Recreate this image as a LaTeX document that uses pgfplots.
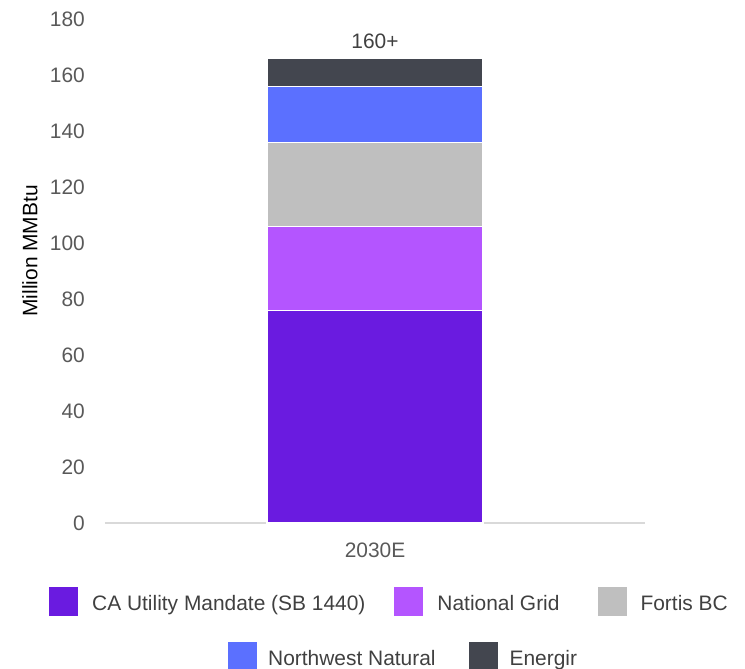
\documentclass[border=0pt]{standalone}
\usepackage{fontspec}
\setmainfont{Liberation Sans}
\usepackage{pgfplots}
\pgfplotsset{compat=1.18}
\definecolor{cacol}{HTML}{6A1BE0}
\definecolor{ngcol}{HTML}{B455FF}
\definecolor{fbcol}{HTML}{BFBFBF}
\definecolor{nwcol}{HTML}{5B70FF}
\definecolor{encol}{HTML}{43464F}
\definecolor{axgray}{HTML}{D9D9D9}
\definecolor{labgray}{HTML}{595959}
\definecolor{legtext}{HTML}{404040}
\newcommand{\chartfont}{\fontsize{21}{25}\selectfont}
\begin{document}
\chartfont
\begin{tikzpicture}
\useasboundingbox (-105bp,-146bp) rectangle (640bp,523bp);
\begin{axis}[
  at={(0,0)}, anchor=south west,
  scale only axis, width=540bp, height=504bp,
  xmin=-1.25, xmax=1.25, ymin=0, ymax=180,
  clip=false,
  ybar stacked, bar width=216bp,
  axis x line*=bottom, axis y line*=left,
  x axis line style={draw=axgray, line width=1.5bp},
  y axis line style={draw=none},
  xtick={0}, xticklabels={2030E},
  ytick={0,20,...,180},
  major tick length=0pt, tick style={draw=none},
  /pgf/number format/assume math mode=true,
  tick label style={font=\chartfont, text=labgray},
  yticklabel style={anchor=east, inner sep=0pt, xshift=-20bp},
  xticklabel style={anchor=north, inner sep=0pt, yshift=-20bp},
  ylabel={Million MMBtu},
  ylabel style={font=\chartfont, text=legtext},
  every axis y label/.style={at={(axis description cs:-0.139,0.54)}, rotate=90, anchor=center},
  legend image code/.code={\fill[#1,draw=none] (0bp,-11.5bp) rectangle (29bp,17.5bp);},
  legend columns=3,
  legend style={draw=none, fill=none, inner sep=0pt, font=\chartfont, text=legtext,
    nodes={inner sep=0pt},
    at={(axis description cs:-0.1037,-0.1563)}, anchor=west,
    /tikz/column 1/.style={column sep=14bp},
    /tikz/column 2/.style={column sep=29bp},
    /tikz/column 3/.style={column sep=14bp},
    /tikz/column 4/.style={column sep=38bp},
    /tikz/column 5/.style={column sep=14bp}},
  legend cell align=left,
]
\addplot[fill=cacol, draw=white, line width=1.2bp] coordinates {(0,76)};
\addlegendentry{CA Utility Mandate (SB 1440)}
\addplot[fill=ngcol, draw=white, line width=1.2bp] coordinates {(0,30)};
\addlegendentry{National Grid}
\addplot[fill=fbcol, draw=white, line width=1.2bp] coordinates {(0,30)};
\addlegendentry{Fortis BC}
\addplot[fill=nwcol, draw=white, line width=1.2bp, forget plot] coordinates {(0,20)};
\addplot[fill=encol, draw=white, line width=1.2bp, forget plot] coordinates {(0,10)};
\node[anchor=south, inner sep=0pt, yshift=9bp, font=\chartfont, text=legtext] at (axis cs:0,166) {160+};
\end{axis}
\begin{axis}[
  at={(0,0)}, anchor=south west,
  scale only axis, width=540bp, height=504bp,
  xmin=0, xmax=1, ymin=0, ymax=1, hide axis,
  legend image code/.code={\fill[#1,draw=none] (0bp,-11.5bp) rectangle (29bp,17.5bp);},
  legend columns=-1,
  legend style={draw=none, fill=none, inner sep=0pt, font=\chartfont, text=legtext,
    nodes={inner sep=0pt},
    at={(axis description cs:0.2278,-0.2649)}, anchor=west,
    /tikz/column 1/.style={column sep=11bp},
    /tikz/column 2/.style={column sep=33bp},
    /tikz/column 3/.style={column sep=12bp}},
]
\addlegendimage{fill=nwcol}
\addlegendentry{Northwest Natural}
\addlegendimage{fill=encol}
\addlegendentry{Energir}
\end{axis}
\end{tikzpicture}
\end{document}
